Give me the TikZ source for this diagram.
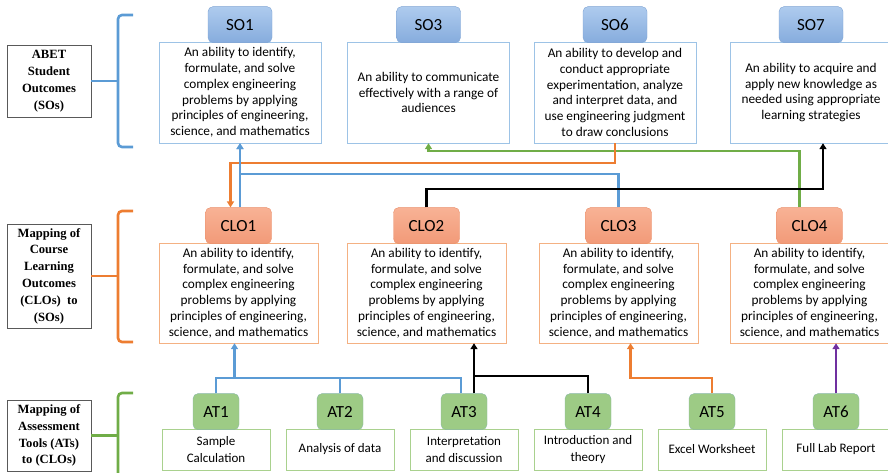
\documentclass[tikz,border=0pt]{standalone}
\usepackage{fontspec}
\setmainfont{Carlito}
\newfontfamily\lblfont{Liberation Serif}
\usetikzlibrary{positioning, arrows.meta}

\definecolor{soline}{HTML}{5B9BD5}
\definecolor{cloline}{HTML}{ED7D31}
\definecolor{atline}{HTML}{70AD47}
\definecolor{purpleline}{HTML}{7030A0}
\definecolor{soedge}{HTML}{9DC3E6}
\definecolor{cloedge}{HTML}{F4B183}
\definecolor{atedge}{HTML}{A9D18E}
\definecolor{sotabtop}{HTML}{AECBEE}
\definecolor{sotabbot}{HTML}{86ACDD}
\definecolor{sotabedge}{HTML}{7EA3D3}
\definecolor{clotabtop}{HTML}{F8B295}
\definecolor{clotabbot}{HTML}{F29A78}
\definecolor{clotabedge}{HTML}{E98F6B}
\definecolor{attabfill}{HTML}{9DCB85}
\definecolor{attabedge}{HTML}{8AB8A6}
\definecolor{lbledge}{HTML}{595959}

\begin{document}
\begin{tikzpicture}[x=1pt, y=-1pt]
\tikzset{
  arrow/.style={
    -{Triangle[length=6pt, width=7pt]}
  },
  line/.style={
    draw,
    line width=2.6pt,
  },
  brace/.style={
    draw,
    line width=2.6pt,
    rounded corners=4pt
  },
  label/.style={
    draw=lbledge,
    line width=0.9pt,
    minimum width=84pt,
    align=center,
    inner sep=1pt,
    font=\lblfont\bfseries\fontsize{12.6}{16.8}\selectfont
  },
  sobox/.style={
    draw=soedge,
    fill=white,
    minimum width=162pt,
    minimum height=101pt,
    align=center,
    inner sep=1pt,
    font=\fontsize{13.3}{15.8}\selectfont
  },
  clobox/.style={
    sobox,
    draw=cloedge,
    minimum width=159pt,
    minimum height=100pt
  },
  atbox/.style={
    sobox,
    draw=atedge,
    minimum width=108pt,
    minimum height=41pt,
    font=\fontsize{13}{17}\selectfont
  },
  sotab/.style={
    draw=sotabedge,
    top color=sotabtop,
    bottom color=sotabbot,
    rounded corners=5pt,
    minimum width=64pt,
    minimum height=36pt,
    font=\fontsize{17}{17}\selectfont
  },
  clotab/.style={
    sotab,
    draw=clotabedge,
    top color=clotabtop,
    bottom color=clotabbot,
    minimum width=66pt
  },
  attab/.style={
    sotab,
    draw=attabedge,
    top color=attabfill,
    bottom color=attabfill,
    minimum width=46pt
  }
}

\useasboundingbox (0,0) rectangle (888,472);

% Row labels and braces
\node (lblso) [label, minimum height=72pt] at (49,81) {ABET\\Student\\Outcomes\\(SOs)};
\node (lblclo) [label, minimum height=104pt] at (49,276) {Mapping of\\Course\\Learning\\Outcomes\\(CLOs)~ to\\(SOs)};
\node (lblat) [label, minimum height=71pt] at (49,435.5) {Mapping of\\Assessment\\Tools (ATs)\\to (CLOs)};

\coordinate (sotip) at (118,81);
\coordinate (clotip) at (118,276);
\coordinate (attip) at (118,435.5);

\draw[brace, soline] (133,15) -- (118,15) -- (118,147) -- (133,147);
\draw[brace, cloline] (133,211) -- (118,211) -- (118,342) -- (133,342);
\draw[brace, atline] (133,393) -- (118,393) -- (118,500);
\draw[line, soline] (lblso) -- (sotip);
\draw[line, cloline] (lblclo) -- (clotip);
\draw[line, atline] (lblat) -- (attip);

% Student outcomes
\node (so1) [sobox] at (240,92.5) {An ability to identify,\\formulate, and solve\\complex engineering\\problems by applying\\principles of engineering,\\science, and mathematics};
\node (so3) [sobox] at (428.5,92.5) {An ability to communicate\\effectively with a range of\\audiences};
\node (so6) [sobox] at (615,92.5) {An ability to develop and\\conduct appropriate\\experimentation, analyze\\and interpret data, and\\use engineering judgment\\to draw conclusions};
\node (so7) [sobox] at (811,92.5) {An ability to acquire and\\apply new knowledge as\\needed using appropriate\\learning strategies};

\node (so1tab) [sotab, above=-1pt of so1] {SO1};
\node (so3tab) [sotab, above=-1pt of so3] {SO3};
\node (so6tab) [sotab, above=-1pt of so6] {SO6};
\node (so7tab) [sotab, above=-1pt of so7] {SO7};

% Course learning outcomes
\node (clo1) [clobox] at (238.5,293) {An ability to identify,\\formulate, and solve\\complex engineering\\problems by applying\\principles of engineering,\\science, and mathematics};
\node (clo2) [clobox] at (426.5,293) {An ability to identify,\\formulate, and solve\\complex engineering\\problems by applying\\principles of engineering,\\science, and mathematics};
\node (clo3) [clobox] at (618.5,293) {An ability to identify,\\formulate, and solve\\complex engineering\\problems by applying\\principles of engineering,\\science, and mathematics};
\node (clo4) [clobox] at (809.5,293) {An ability to identify,\\formulate, and solve\\complex engineering\\problems by applying\\principles of engineering,\\science, and mathematics};

\node (clo1tab) [clotab, above=-1pt of clo1] {CLO1};
\node (clo2tab) [clotab, above=-1pt of clo2] {CLO2};
\node (clo3tab) [clotab, above=-1pt of clo3] {CLO3};
\node (clo4tab) [clotab, above=-1pt of clo4] {CLO4};

% Assessment tools
\node (at1) [atbox] at (216,449.5) {Sample\\Calculation};
\node (at2) [atbox] at (340,449.5) {Analysis of data};
\node (at3) [atbox] at (464,449.5) {Interpretation\\and discussion};
\node (at4) [atbox] at (588,449.5) {Introduction and\\theory};
\node (at5) [atbox] at (712,449.5) {Excel Worksheet};
\node (at6) [atbox] at (836,449.5) {Full Lab Report};

\node (at1tab) [attab, above=-1pt of at1] {AT1};
\node (at2tab) [attab, above=-1pt of at2] {AT2};
\node (at3tab) [attab, above=-1pt of at3] {AT3};
\node (at4tab) [attab, above=-1pt of at4] {AT4};
\node (at5tab) [attab, above=-1pt of at5] {AT5};
\node (at6tab) [attab, above=-1pt of at6] {AT6};

% CLOs to SOs
\coordinate (greenbus) at (0,151);
\coordinate (orangebus) at (0,163);
\coordinate (bluebus) at (0,174);
\coordinate (blackbus) at (0,189);

\draw[line, atline, arrow] ([xshift=-10pt]clo4tab.north) |- (so3.south |- greenbus) -- (so3.south);
\draw[line, cloline, arrow] (so6.south) |- ([xshift=-8pt]clo1tab.north |- orangebus) -- ([xshift=-8pt]clo1tab.north);
\draw[line, soline, arrow] (clo3tab.north) |- (so1.south |- bluebus) -- (so1.south);
\draw[line, soline, arrow] (so1.south |- clo1tab.north) -- (so1.south);
\draw[line, black, arrow] (clo2tab.north) |- ([xshift=12pt]so7.south |- blackbus) -- ([xshift=12pt]so7.south);

% ATs to CLOs
\coordinate (atbus) at (0,378);
\coordinate (atblackbus) at (0,376);

\draw[line, soline] (at1tab.north) |- ([xshift=-3pt]at3tab.north |- atbus) -- ([xshift=-3pt]at3tab.north);
\draw[line, soline] (at2tab.north) -- (at2tab.north |- atbus);
\draw[line, soline, arrow] ([xshift=-4pt]clo1.south |- atbus) -- ([xshift=-4pt]clo1.south);
\draw[line, black, arrow] ([xshift=10pt]at3tab.north) -- ([xshift=10pt]at3tab.north |- clo2.south);
\draw[line, black] (at4tab.north) |- ([xshift=10pt]at3tab.north |- atblackbus);
\draw[line, cloline, arrow] (at5tab.north) |- ([xshift=12pt]clo3.south |- atbus) -- ([xshift=12pt]clo3.south);
\draw[line, purpleline, arrow] (at6tab.north) -- (at6tab.north |- clo4.south);

\end{tikzpicture}
\end{document}
